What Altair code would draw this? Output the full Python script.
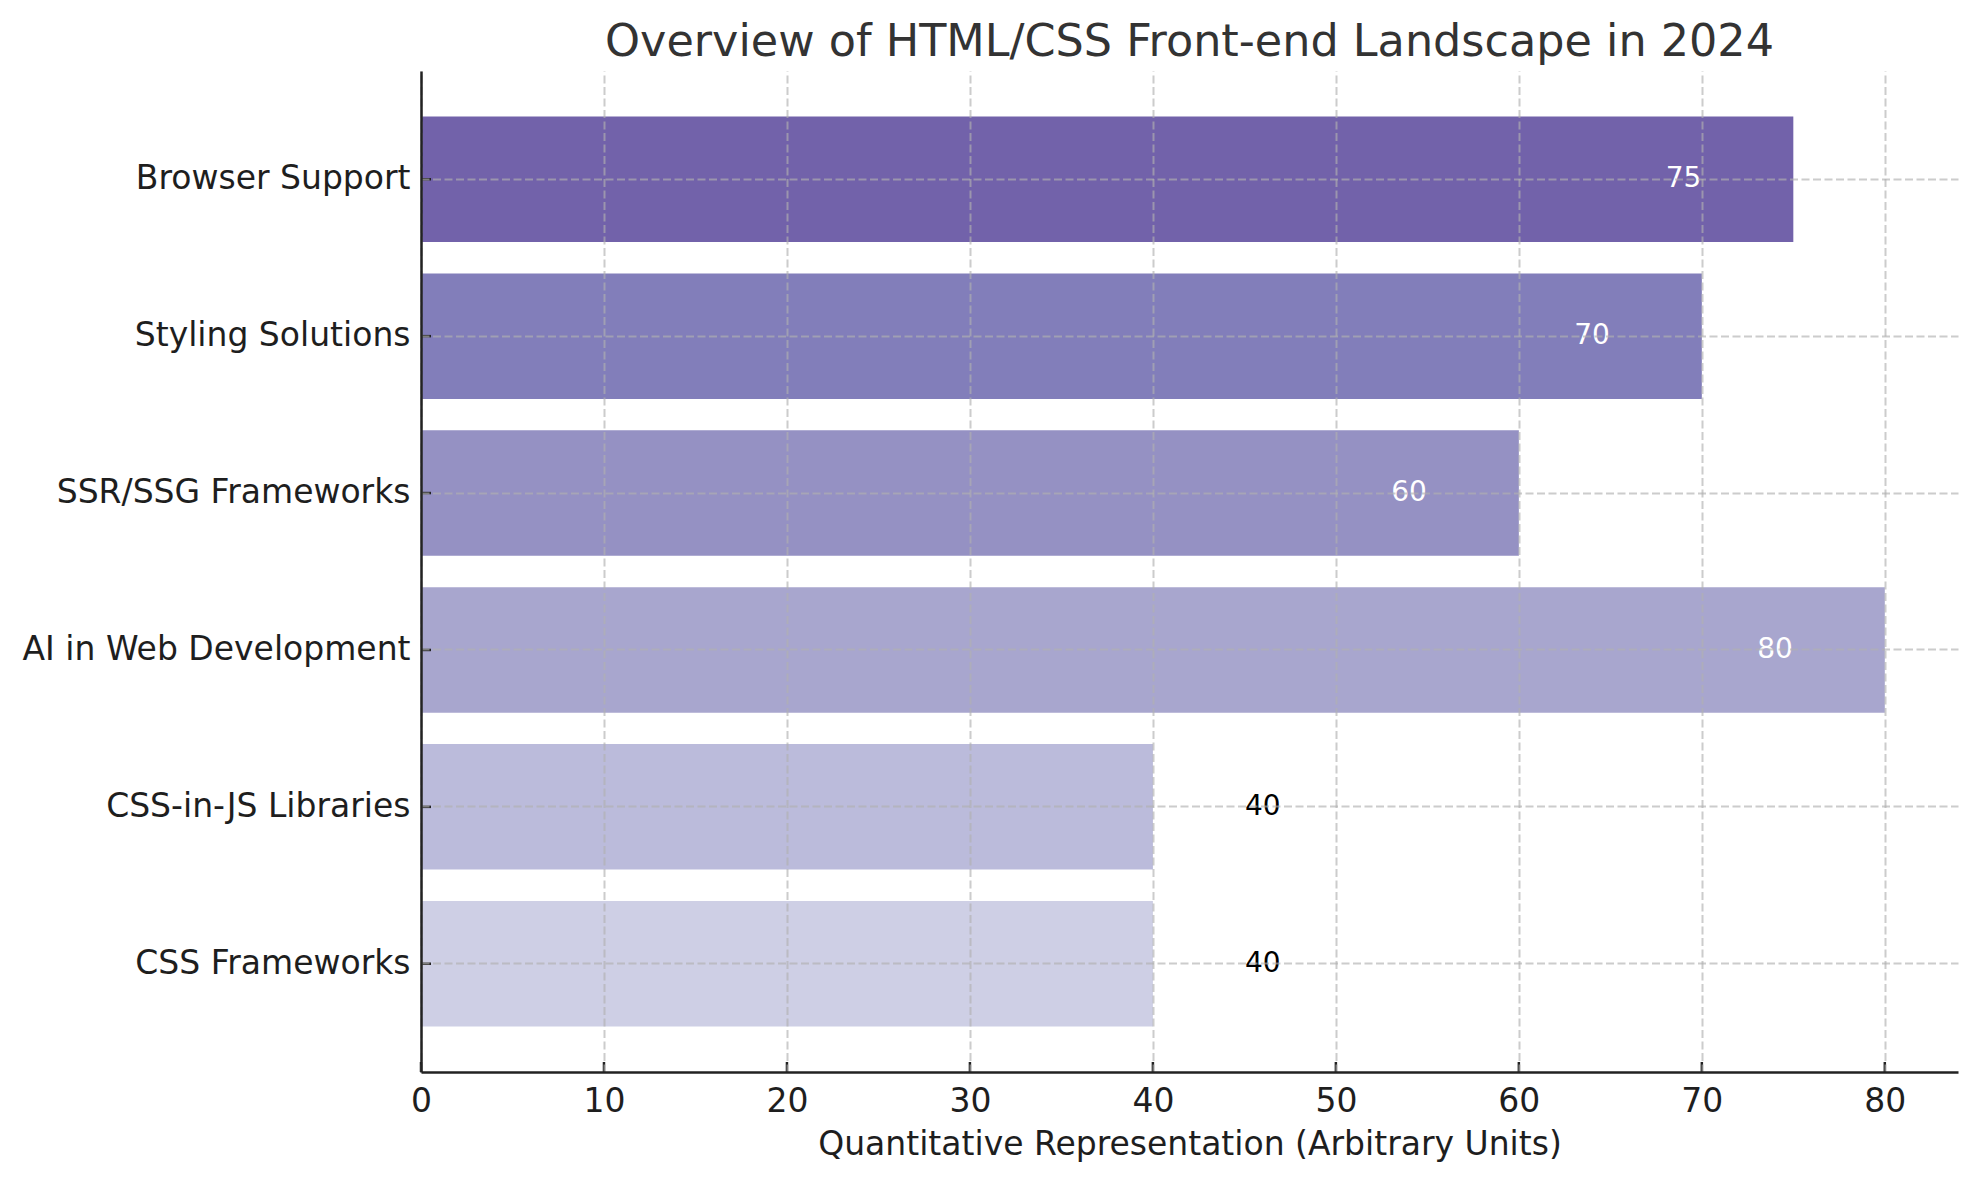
import altair as alt
import pandas as pd

categories = ["Browser Support", "Styling Solutions", "SSR/SSG Frameworks",
              "AI in Web Development", "CSS-in-JS Libraries", "CSS Frameworks"]
values = [75, 70, 60, 80, 40, 40]
colors = ["#7262aa", "#827eba", "#9591c3", "#a8a6ce", "#bbbbdb", "#cecfe5"]
x_ticks = [0, 10, 20, 30, 40, 50, 60, 70, 80]

FONT = "DejaVu Sans"
W, H = 1537, 1001

df = pd.DataFrame({"category": categories, "value": values, "color": colors})
ticks_df = pd.DataFrame({"t": x_ticks})

y_enc = alt.Y("category:N", sort=categories,
              scale=alt.Scale(paddingInner=0.2, paddingOuter=0.29),
              axis=alt.Axis(title=None, labelFont=FONT, labelFontSize=33,
                            labelColor="#1e1e1e", labelPadding=11, ticks=False,
                            labelLimit=1000,
                            domain=True, domainColor="#222222", domainWidth=2.5,
                            grid=True, gridColor="#b0b0b0", gridOpacity=0.65,
                            gridDash=[8, 3.5], gridWidth=2, bandPosition=0.5,
                            zindex=1))
x_scale = alt.Scale(domain=[0, 84], nice=False, zero=True)
x_axis = alt.Axis(title="Quantitative Representation (Arbitrary Units)",
                  titleFont=FONT, titleFontSize=33, titleFontWeight="normal",
                  titleColor="#1e1e1e", titlePadding=10,
                  labelFont=FONT, labelFontSize=33, labelColor="#1e1e1e",
                  labelPadding=13, labelFlush=False, ticks=False, values=x_ticks,
                  domain=True, domainColor="#222222", domainWidth=2.5,
                  grid=True, gridColor="#b0b0b0", gridOpacity=0.65,
                  gridDash=[8, 3.5], gridWidth=2, zindex=1)

base = alt.Chart(df)

bars = base.mark_bar(cornerRadius=0).encode(
    y=y_enc,
    x=alt.X("value:Q", scale=x_scale, axis=x_axis),
    color=alt.Color("color:N", scale=None, legend=None),
)

labels_in = base.transform_filter("datum.value > 50").transform_calculate(
    lx="datum.value - 6"
).mark_text(font=FONT, fontSize=28, align="center", baseline="middle",
            color="white").encode(
    y=alt.Y("category:N", sort=categories),
    x=alt.X("lx:Q"),
    text=alt.Text("value:Q"),
)

labels_out = base.transform_filter("datum.value <= 50").transform_calculate(
    lx="datum.value + 6"
).mark_text(font=FONT, fontSize=28, align="center", baseline="middle",
            color="black").encode(
    y=alt.Y("category:N", sort=categories),
    x=alt.X("lx:Q"),
    text=alt.Text("value:Q"),
)

yticks = base.mark_rule(color="#222222", strokeWidth=2.5).encode(
    y=alt.Y("category:N", sort=categories),
    x=alt.value(0), x2=alt.value(10),
)

xticks = alt.Chart(ticks_df).mark_rule(color="#222222", strokeWidth=2.5).encode(
    x=alt.X("t:Q"),
    y=alt.value(H), y2=alt.value(H - 10),
)

chart = alt.layer(bars, labels_in, labels_out, yticks, xticks).properties(
    width=W, height=H,
    padding={"left": 14, "top": 11, "right": 5, "bottom": 5},
    title=alt.TitleParams("Overview of HTML/CSS Front-end Landscape in 2024",
                          font=FONT, fontSize=44.5, fontWeight="normal",
                          color="#333333", anchor="middle", offset=6),
).configure(background="white", view=alt.ViewConfig(stroke=None))

chart.save("out.html", embed_options={"renderer": "svg", "actions": False})
